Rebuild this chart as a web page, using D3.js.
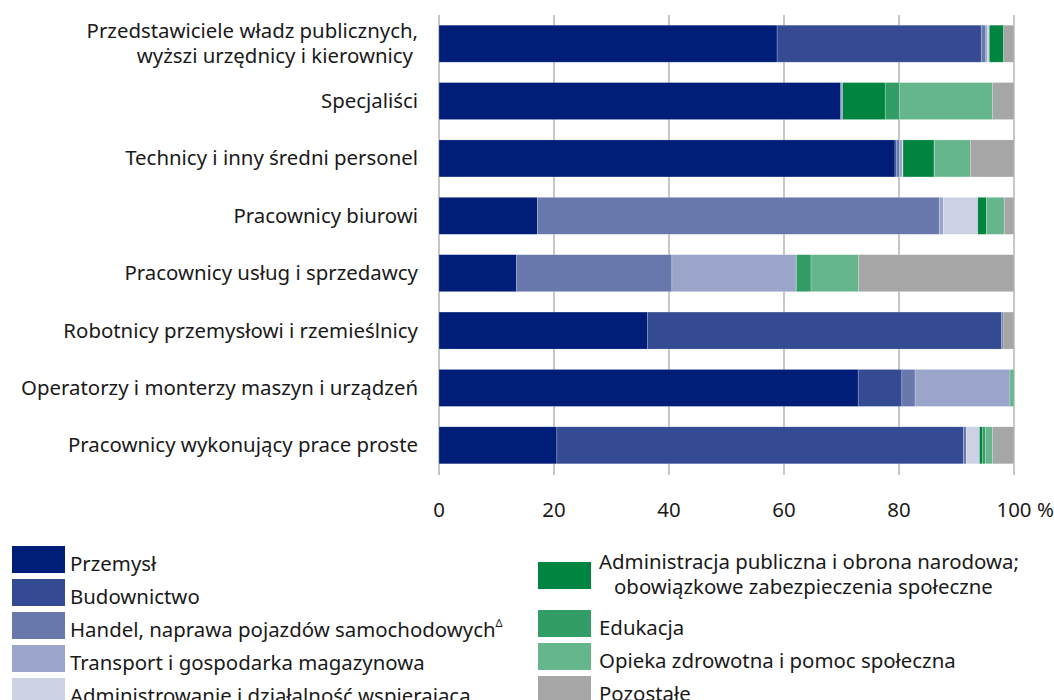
<!DOCTYPE html>
<html>
<head>
<meta charset="utf-8">
<script src="https://cdn.jsdelivr.net/npm/d3@7"></script>
<style>
  body { margin: 0; background: #fff; }
  svg { font-family: "Noto Sans", sans-serif; }
</style>
</head>
<body>
<svg id="chart" width="1054" height="700"></svg>
<script>
var categories = [
  "Przedstawiciele władz publicznych,|wyższi urzędnicy i kierownicy",
  "Specjaliści",
  "Technicy i inny średni personel",
  "Pracownicy biurowi",
  "Pracownicy usług i sprzedawcy",
  "Robotnicy przemysłowi i rzemieślnicy",
  "Operatorzy i monterzy maszyn i urządzeń",
  "Pracownicy wykonujący prace proste"
];
var sectors = [
  "Przemysł",
  "Budownictwo",
  "Handel, naprawa pojazdów samochodowych",
  "Transport i gospodarka magazynowa",
  "Administrowanie i działalność wspierająca",
  "Administracja publiczna i obrona narodowa;|obowiązkowe zabezpieczenia społeczne",
  "Edukacja",
  "Opieka zdrowotna i pomoc społeczna",
  "Pozostałe"
];
var colors = ["#001d77", "#344a93", "#6878ad", "#9aa5c9", "#ccd2e4", "#008541", "#339d67", "#66b68d", "#a6a6a6"];
// shares in %, one value per category, in category order
var przemysl        = [58.8, 69.8, 79.3, 17.1, 13.5, 36.3, 72.9, 20.5];
var budownictwo     = [35.5, 0.2, 0.3, 0.0, 0.0, 61.5, 7.6, 70.7];
var handel          = [0.8, 0.2, 0.5, 69.9, 27.0, 0.3, 2.3, 0.5];
var transport       = [0.3, 0.0, 0.5, 0.7, 21.6, 0.0, 16.5, 0.0];
var administrowanie = [0.3, 0.0, 0.1, 6.0, 0.0, 0.0, 0.0, 2.3];
var adminPubliczna  = [2.5, 7.4, 5.4, 1.5, 0.1, 0.0, 0.0, 0.5];
var edukacja        = [0.0, 2.5, 0.1, 0.0, 2.5, 0.0, 0.0, 0.5];
var opieka          = [0.0, 16.2, 6.2, 3.1, 8.3, 0.0, 0.7, 1.3];
var pozostale       = [1.8, 3.7, 7.6, 1.7, 27.0, 1.9, 0.0, 3.7];
var xTicks = [0, 20, 40, 60, 80, 100];

var series = [przemysl, budownictwo, handel, transport, administrowanie, adminPubliczna, edukacja, opieka, pozostale];
var rows = categories.map(function (c, i) {
  var r = { cat: c };
  sectors.forEach(function (s, j) { r[s] = series[j][i]; });
  return r;
});

var svg = d3.select("#chart");
var x = d3.scaleLinear().domain([0, 100]).range([439, 1014]);
var y = d3.scaleBand().domain(categories).range([15, 474]).paddingInner(0.355).paddingOuter(0.1775);
var textColor = "#1a1a1a";
var fs = 20.4;

// gridlines + ticks
svg.append("g").selectAll("line").data(xTicks).enter().append("line")
  .attr("x1", function (d) { return x(d); })
  .attr("x2", function (d) { return x(d); })
  .attr("y1", 15).attr("y2", 475)
  .attr("stroke", "#b5b5b5").attr("stroke-width", 1.5);

var stack = d3.stack().keys(sectors)(rows);
var layers = svg.append("g").selectAll("g").data(stack).enter().append("g")
  .attr("fill", function (d, i) { return colors[i]; });
layers.selectAll("rect").data(function (d) { return d; }).enter().append("rect")
  .attr("x", function (d) { return x(d[0]); })
  .attr("width", function (d) { return Math.max(0, x(d[1]) - x(d[0])); })
  .attr("y", function (d) { return y(d.data.cat); })
  .attr("height", y.bandwidth())
  .attr("stroke", "#ffffff").attr("stroke-opacity", 0.35).attr("stroke-width", 0.6);

// category labels
var catLines = [];
categories.forEach(function (d) {
  var lines = d.split("|");
  var cy = y(d) + y.bandwidth() / 2;
  if (lines.length === 1) {
    catLines.push({ t: lines[0], x: 418, y: cy + 7 });
  } else {
    catLines.push({ t: lines[0], x: 418, y: cy - 6 });
    catLines.push({ t: lines[1], x: 413, y: cy + 19 });
  }
});
svg.append("g").selectAll("text").data(catLines).enter().append("text")
  .attr("x", function (d) { return d.x; })
  .attr("y", function (d) { return d.y; })
  .attr("text-anchor", "end")
  .attr("font-size", fs)
  .attr("fill", textColor)
  .text(function (d) { return d.t; });

// x tick labels
svg.append("g").selectAll("text").data(xTicks).enter().append("text")
  .attr("x", function (d) { return x(d); })
  .attr("y", 517)
  .attr("text-anchor", "middle")
  .attr("font-size", fs)
  .attr("fill", textColor)
  .text(function (d) { return d; });
svg.append("text").attr("x", x(100) + 23).attr("y", 517)
  .attr("font-size", fs).attr("fill", textColor).text("%");

// legend
var legendPos = [
  { x: 12, y: 546, tx: 70 },
  { x: 12, y: 579, tx: 70 },
  { x: 12, y: 612, tx: 70 },
  { x: 12, y: 645, tx: 70 },
  { x: 12, y: 678, tx: 70 },
  { x: 538, y: 562, tx: 599 },
  { x: 538, y: 610, tx: 599 },
  { x: 538, y: 643, tx: 599 },
  { x: 538, y: 676, tx: 599 }
];
var legend = svg.append("g");
sectors.forEach(function (d, i) {
  var p = legendPos[i];
  legend.append("rect")
    .attr("x", p.x).attr("y", p.y)
    .attr("width", 53).attr("height", 27)
    .attr("fill", colors[i]);
  var lines = d.split("|");
  if (lines.length === 1) {
    var t = legend.append("text")
      .attr("x", p.tx).attr("y", p.y + 25)
      .attr("font-size", fs).attr("fill", textColor);
    t.append("tspan").text(lines[0]);
    if (i === 2) t.append("tspan").attr("font-size", 11).attr("dy", -10).text("Δ");
  } else {
    legend.append("text").attr("x", p.tx).attr("y", p.y + 7)
      .attr("font-size", fs).attr("fill", textColor).text(lines[0]);
    legend.append("text").attr("x", p.tx + 15).attr("y", p.y + 32)
      .attr("font-size", fs).attr("fill", textColor).text(lines[1]);
  }
});
</script>
</body>
</html>
